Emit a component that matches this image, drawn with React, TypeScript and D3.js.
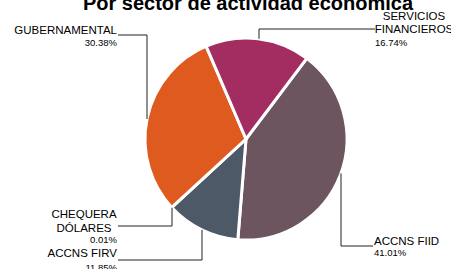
import * as d3 from "d3";

// slices in drawing order, clockwise
const categories = ["ACCNS FIID", "ACCNS FIRV", "CHEQUERA DÓLARES", "GUBERNAMENTAL", "SERVICIOS FINANCIEROS"];
const values = [41.01, 11.85, 0.01, 30.38, 16.74];
const pctLabels = ["41.01%", "11.85%", "0.01%", "30.38%", "16.74%"];
const nameLines = [["ACCNS FIID"], ["ACCNS FIRV"], ["CHEQUERA", "DÓLARES"], ["GUBERNAMENTAL"], ["SERVICIOS", "FINANCIEROS"]];
const colors = ["#6D5560", "#4E5967", "#8a8a8a", "#DF5A1F", "#A32C61"];

const W = 451;
const H = 269;
const cx = 246;
const cy = 139;
const R = 101;
const startDeg = 37;

// label placement: text block + leader (elbow x on pie, y of horizontal run, "top"/"bottom" side of pie)
const layout = [
  { anchor: "start", nameX: 374, nameY: [245], pctX: 374, pctY: 256, lineX0: 373, elbowX: 341, lineY: 246, side: 1 },
  { anchor: "end", nameX: 117, nameY: [257], pctX: 117, pctY: 271, lineX0: 118, elbowX: 202, lineY: 260, side: 1 },
  { anchor: "middle", nameX: 84, nameY: [218, 231.5], pctX: 117, pctY: 243, lineX0: 118, elbowX: 172, lineY: 226, side: 1 },
  { anchor: "end", nameX: 117, nameY: [34], pctX: 117, pctY: 46, lineX0: 118, elbowX: 147, lineY: 35, side: -1 },
  { anchor: "middle", nameX: 414, nameY: [20, 33], pctX: 375, pctY: 46, lineX0: 375, elbowX: 259, lineY: 29, side: -1 },
];

export default function App() {
  const a0 = (startDeg * Math.PI) / 180;
  const pie = d3.pie<number>().sort(null).value((d) => d).startAngle(a0).endAngle(a0 + 2 * Math.PI);
  const arcs = pie(values);
  const arc = d3.arc<d3.PieArcDatum<number>>().innerRadius(0).outerRadius(R);

  return (
    <div style={{ position: "fixed", left: 0, top: 0 }}>
      <svg width={W} height={H} style={{ display: "block", fontFamily: "'Liberation Sans', Arial, sans-serif" }}>
        <rect width={W} height={H} fill="#fff" />
        <text x={248} y={10} textAnchor="middle" fontSize={20} fontWeight="bold" fill="#000">
          Por sector de actividad económica
        </text>
        <g transform={`translate(${cx},${cy})`}>
          {arcs.map((a, i) => (
            <path key={i} d={arc(a) || ""} fill={colors[i]} stroke="#fff" strokeWidth={3} strokeLinejoin="round" />
          ))}
        </g>
        {layout.map((l, i) => {
          const dx = l.elbowX - cx;
          const edgeY = cy + l.side * Math.sqrt(Math.max(0, R * R - dx * dx));
          const pts: [number, number][] = [
            [l.lineX0, l.lineY],
            [l.elbowX, l.lineY],
            [l.elbowX, edgeY],
          ];
          return (
            <g key={i}>
              <path d={d3.line()(pts) || ""} fill="none" stroke="#222" strokeWidth={1} />
              {nameLines[i].map((t, j) => (
                <text key={j} x={l.nameX} y={l.nameY[j]} textAnchor={l.anchor} fontSize={11.5} fill="#000">
                  {t}
                </text>
              ))}
              <text x={l.pctX} y={l.pctY} textAnchor={l.anchor === "middle" ? (i === 2 ? "end" : "start") : l.anchor} fontSize={9.5} fill="#000">
                {pctLabels[i]}
              </text>
            </g>
          );
        })}
      </svg>
    </div>
  );
}
